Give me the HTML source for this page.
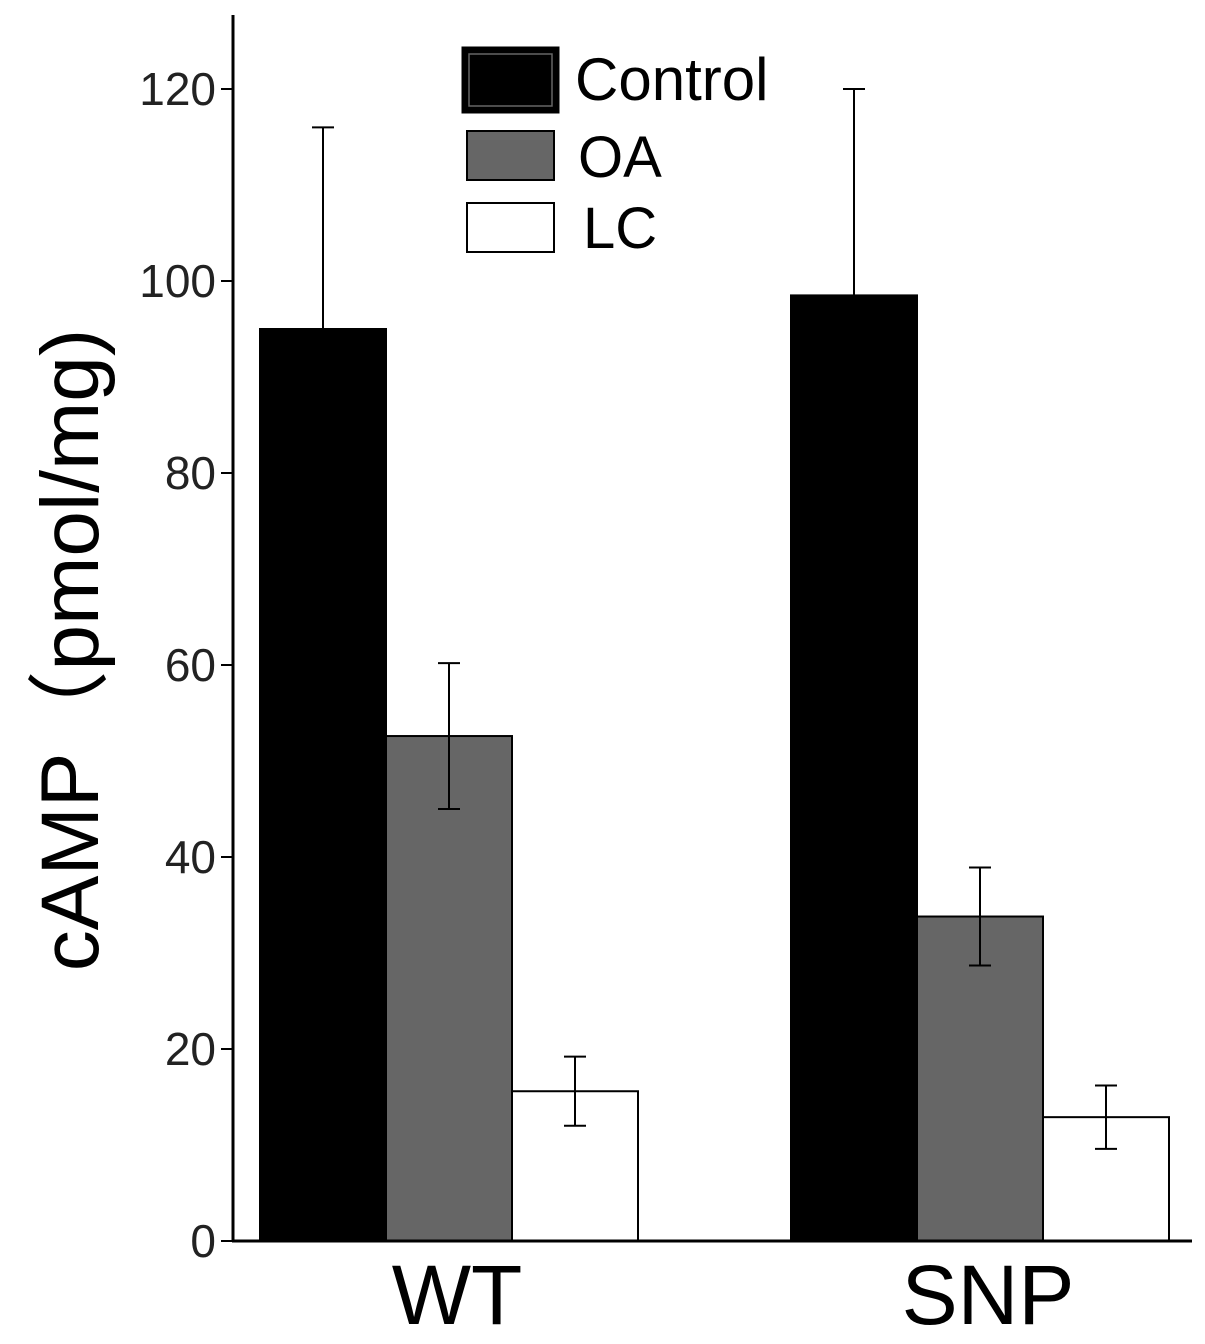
<!DOCTYPE html>
<html><head><meta charset="utf-8"><style>
body{margin:0;background:#fff}
svg{display:block;font-family:"Liberation Sans",Arial,sans-serif}
</style></head><body>
<svg id="chart" width="1205" height="1344">
<g id="marks"></g>
<line x1="233" y1="15" x2="233" y2="1241" stroke="#000" stroke-width="3"/>
<line x1="232" y1="1241" x2="1192" y2="1241" stroke="#000" stroke-width="3"/>
<g id="ticks"></g>
<text x="98" y="650" font-size="82" text-anchor="middle" transform="rotate(-90 98 650)">cAMP（pmol/mg)</text>
<g>
<rect x="463" y="48" width="95" height="64" fill="#000" stroke="#000" stroke-width="3"/>
<rect x="469" y="54" width="83" height="52" fill="none" stroke="#666" stroke-width="1.5"/>
<text x="575" y="100" font-size="60">Control</text>
<rect x="467" y="131" width="87" height="49" fill="#666" stroke="#000" stroke-width="2"/>
<text x="578" y="177" font-size="58">OA</text>
<rect x="467" y="203" width="87" height="49" fill="#fff" stroke="#000" stroke-width="2"/>
<text x="583" y="248" font-size="58">LC</text>
</g>
</svg>
<script>
const groups=["WT","SNP"];
const control=[95,98.5];
const controlErr=[21,21.5];
const oa=[52.6,33.8];
const oaErr=[7.6,5.1];
const lc=[15.6,12.9];
const lcErr=[3.6,3.3];
const yTicks=[0,20,40,60,80,100,120];
const NS="http://www.w3.org/2000/svg";
const y=v=>1241-v*9.6;
const groupX=[260,791];
const bw=126;
const series=[{n:"control",v:control,e:controlErr,f:"#000"},{n:"oa",v:oa,e:oaErr,f:"#666"},{n:"lc",v:lc,e:lcErr,f:"#fff"}];
const marks=document.getElementById("marks");
function mk(tag,attrs,parent){const el=document.createElementNS(NS,tag);for(const k in attrs)el.setAttribute(k,attrs[k]);parent.appendChild(el);return el;}
groups.forEach((g,gi)=>{
 series.forEach((s,si)=>{
  const x=groupX[gi]+si*bw;
  const r=mk("rect",{x:x,y:y(s.v[gi]),width:bw,height:y(0)-y(s.v[gi]),fill:s.f,stroke:"#000","stroke-width":2},marks);
  
  
  const cx=x+bw/2,hi=y(s.v[gi]+s.e[gi]),lo=y(s.v[gi]-s.e[gi]);
  const eg=mk("g",{stroke:"#000","stroke-width":2},marks);
  
  
  mk("line",{x1:cx,y1:hi,x2:cx,y2:lo},eg);
  mk("line",{x1:cx-11,y1:hi,x2:cx+11,y2:hi},eg);
  mk("line",{x1:cx-11,y1:lo,x2:cx+11,y2:lo},eg);
 });
 const t=mk("text",{x:groupX[gi]+bw*1.5+8,y:1324,"font-size":84,"text-anchor":"middle"},marks);
 t.textContent=g;
 
 
});
const tk=document.getElementById("ticks");
yTicks.forEach(v=>{
 const l=mk("line",{x1:221,y1:y(v),x2:233,y2:y(v),stroke:"#000","stroke-width":2},tk);
 
 
 const t=mk("text",{x:216,y:y(v)+16,"font-size":46,"text-anchor":"end",fill:"#222"},tk);
 t.textContent=v;
 
 
});
</script>
</body></html>
